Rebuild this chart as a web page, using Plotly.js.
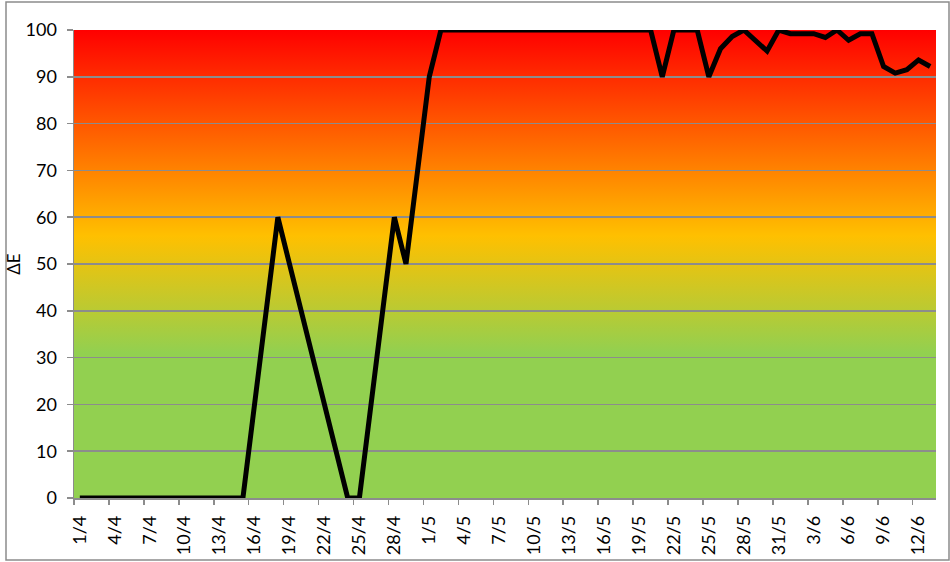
<!DOCTYPE html>
<html>
<head>
<meta charset="utf-8">
<script src="https://cdn.plot.ly/plotly-3.0.1.min.js"></script>
<style>html,body{margin:0;padding:0;background:#fff;}#chart{width:950px;height:562px;}</style>
</head>
<body>
<div id="chart"></div>
<script>
// Categories (day/month)
var dayLabels = [
 "1/4","2/4","3/4","4/4","5/4","6/4","7/4","8/4","9/4","10/4",
 "11/4","12/4","13/4","14/4","15/4","16/4","17/4","18/4","19/4","20/4",
 "21/4","22/4","23/4","24/4","25/4","26/4","27/4","28/4","29/4","30/4",
 "1/5","2/5","3/5","4/5","5/5","6/5","7/5","8/5","9/5","10/5",
 "11/5","12/5","13/5","14/5","15/5","16/5","17/5","18/5","19/5","20/5",
 "21/5","22/5","23/5","24/5","25/5","26/5","27/5","28/5","29/5","30/5",
 "31/5","1/6","2/6","3/6","4/6","5/6","6/6","7/6","8/6","9/6",
 "10/6","11/6","12/6","13/6"
];
// ΔE values (null = no measurement, line connects across)
var deltaE = [
 0,0,0,0,0,0,0,0,0,0,
 0,0,0,0,0,null,null,60,null,null,
 null,null,null,0,0,null,null,60,50,null,
 90,100,100,100,100,100,100,100,100,100,
 100,100,100,100,100,100,100,100,100,100,
 90,100,100,100,90,96,98.6,100,null,95.5,
 100,99.2,99.2,99.2,98.4,100,97.8,99.2,99.2,92.2,
 90.8,91.5,93.6,92.2
];
// Labelled categories every third day
var tickEvery = 3;
var yTicks = [0,10,20,30,40,50,60,70,80,90,100];

var xIdx = dayLabels.map(function(d,i){return i;});
var tickPos = [], tickTxt = [], bndPos = [];
for (var i = 0; i < dayLabels.length; i += tickEvery) {
  tickPos.push(i); tickTxt.push(dayLabels[i]); bndPos.push(i - 0.5);
}

// gradient background image (style only)
var svg = '<svg xmlns="http://www.w3.org/2000/svg" width="100" height="100" viewBox="0 0 100 100" preserveAspectRatio="none">' +
  '<defs><linearGradient id="g" x1="0" y1="0" x2="0" y2="1">' +
  '<stop offset="0" stop-color="#FF0000"/>' +
  '<stop offset="0.44" stop-color="#FFC000"/>' +
  '<stop offset="0.69" stop-color="#92D050"/>' +
  '<stop offset="1" stop-color="#92D050"/>' +
  '</linearGradient></defs><rect x="0" y="0" width="100" height="100" fill="url(#g)"/></svg>';
var bgSrc = 'data:image/svg+xml;base64,' + btoa(svg);

var shapes = [{type:'rect', layer:'above', xref:'paper', yref:'paper',
  x0:(6-74)/862, x1:(949-74)/862, y0:(498-560)/468, y1:(498-2)/468,
  line:{color:'#8c8c8c', width:1.5}, fillcolor:'rgba(0,0,0,0)'}];

var trace = {
  x: xIdx, y: deltaE, type:'scatter', mode:'lines', connectgaps:true,
  line:{color:'#000000', width:5, shape:'linear'}, hoverinfo:'skip'
};

var font = {family:'Lato, "Open Sans", sans-serif', size:18, color:'#000'};
var layout = {
  width:950, height:562,
  margin:{l:74, r:14, t:30, b:64},
  paper_bgcolor:'#ffffff', plot_bgcolor:'rgba(0,0,0,0)',
  showlegend:false,
  font: font,
  images:[{source:bgSrc, xref:'paper', yref:'paper', x:0, y:1, sizex:1, sizey:1,
    sizing:'stretch', xanchor:'left', yanchor:'top', layer:'below', opacity:1}],
  xaxis:{
    type:'linear', range:[-0.5, dayLabels.length-0.5], fixedrange:true,
    tickmode:'array', tickvals:tickPos, ticktext:tickTxt, tickangle:-90,
    ticks:'', ticklen:0, showgrid:false, zeroline:false,
    showline:true, linecolor:'#8c8c8c', linewidth:1.5,
    tickfont:font, ticklabelstandoff:9,
    minor:{tickmode:'array', tickvals:bndPos, ticks:'outside', ticklen:5, tickcolor:'#8c8c8c', tickwidth:1.5, showgrid:false}
  },
  yaxis:{
    range:[0,100], fixedrange:true, tickmode:'array', tickvals:yTicks,
    ticks:'outside', ticklen:6, tickcolor:'#8c8c8c', tickwidth:1.5,
    showgrid:true, gridcolor:'#8c8c8c', gridwidth:1.5, zeroline:false,
    showline:true, linecolor:'#8c8c8c', linewidth:1.5,
    tickfont:font, ticklabelstandoff:6,
    title:{text:'ΔE', font:{family:'Lato, "Open Sans", sans-serif', size:17, color:'#000'}, standoff:0}
  },
  shapes: shapes
};
Plotly.newPlot('chart', [trace], layout, {displayModeBar:false, staticPlot:true});
</script>
</body>
</html>
